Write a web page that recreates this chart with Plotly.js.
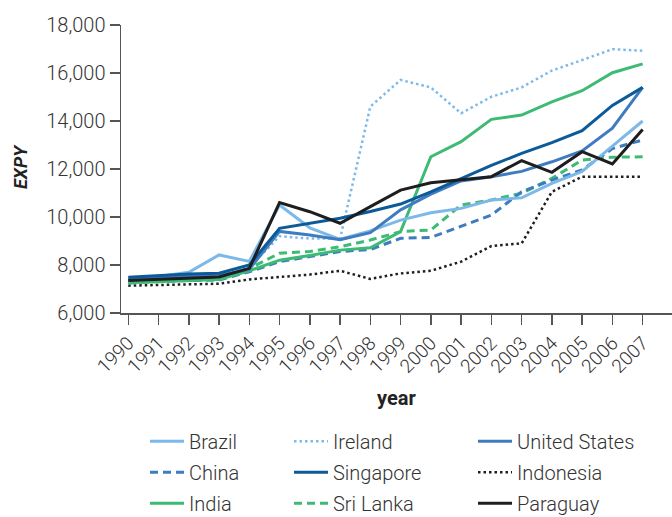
<!DOCTYPE html>
<html>
<head>
<meta charset="utf-8">
<script src="https://cdn.plot.ly/plotly-3.0.1.min.js"></script>
<style>html,body{margin:0;padding:0;background:#fff;}#chart{width:672px;height:517px;}</style>
</head>
<body>
<div id="chart"></div>
<script>
const years = [1990,1991,1992,1993,1994,1995,1996,1997,1998,1999,2000,2001,2002,2003,2004,2005,2006,2007];
const tickLabels = years.map(String);
const yTitle = 'EXPY';
const xTitle = 'year';

const brazil       = [7380,7520,7700,8420,8150,10500,9550,9070,9420,9870,10180,10360,10710,10800,11400,11900,12950,14000];
const ireland      = [7320,7420,7500,7560,7900,9200,9100,9100,14600,15710,15400,14320,15010,15400,16100,16540,16990,16930];
const unitedStates = [7420,7480,7540,7560,7820,9400,9250,9050,9350,10300,10950,11500,11680,11900,12300,12750,13700,15400];
const china        = [7300,7320,7350,7375,7720,8140,8350,8560,8650,9110,9150,9600,10080,11050,11540,11960,12850,13210];
const singapore    = [7490,7560,7620,7660,8000,9530,9740,9950,10230,10540,11050,11600,12150,12650,13100,13600,14650,15400];
const indonesia    = [7140,7170,7190,7220,7400,7510,7600,7760,7420,7650,7760,8140,8790,8900,11050,11680,11680,11680];
const india        = [7260,7300,7350,7400,7760,8200,8400,8620,8720,9390,12510,13140,14070,14250,14800,15260,16010,16380];
const sriLanka     = [7240,7300,7380,7445,7860,8490,8560,8760,9040,9390,9460,10500,10710,10990,11610,12375,12490,12510];
const paraguay     = [7350,7400,7450,7500,7860,10600,10220,9740,10430,11120,11430,11540,11680,12350,11860,12720,12210,13650];

const lightBlue = '#7db9e8', midBlue = '#3f7cbf', darkBlue = '#0d5a99', green = '#3dbb74', black = '#1e1e1e';
const DOT = '2.5px,3px', DASH = '8px,5px';

function tr(name, y, color, dash, width, legend, rank) {
  return {x: years, y: y, name: name, type: 'scatter', mode: 'lines',
    line: {color: color, width: width, dash: dash},
    legend: legend, legendrank: rank, legendgroup: name};
}

const data = [
  tr('Indonesia', indonesia, black, DOT, 2.5, 'legend3', 2),
  tr('Sri Lanka', sriLanka, green, DASH, 3, 'legend2', 3),
  tr('China', china, midBlue, DASH, 3, 'legend', 2),
  tr('India', india, green, 'solid', 3, 'legend', 3),
  tr('Ireland', ireland, lightBlue, DOT, 2.5, 'legend2', 1),
  tr('Brazil', brazil, lightBlue, 'solid', 3, 'legend', 1),
  tr('United States', unitedStates, midBlue, 'solid', 3, 'legend3', 1),
  tr('Singapore', singapore, darkBlue, 'solid', 3, 'legend2', 2),
  tr('Paraguay', paraguay, black, 'solid', 3, 'legend3', 3)
];

const FONT = 'Roboto, "Liberation Sans", Arial, sans-serif';
const txt = '#333333';
const legendBase = {
  orientation: 'v', xref: 'container', yref: 'container', xanchor: 'left', yanchor: 'top',
  y: 0.184, bgcolor: 'rgba(0,0,0,0)', borderwidth: 0, itemwidth: 34,
  font: {family: FONT, size: 20, color: txt, weight: 300},
  traceorder: 'grouped', tracegroupgap: 2, itemclick: false
};

const layout = {
  width: 672, height: 517,
  margin: {l: 121, r: 0, t: 25, b: 204, pad: 0, autoexpand: false},
  paper_bgcolor: '#ffffff', plot_bgcolor: '#ffffff',
  font: {family: FONT, size: 20, color: txt, weight: 300},
  xaxis: {
    range: [1989.76, 2007.97], tickvals: years, ticktext: tickLabels, tickangle: -45,
    showgrid: false, zeroline: false, showline: true, linecolor: '#555555', linewidth: 1.5,
    ticks: 'outside', ticklen: 10, tickwidth: 1.5, tickcolor: '#555555',
    tickfont: {family: FONT, size: 19, color: txt, weight: 300},
    title: {text: xTitle, font: {family: FONT, size: 20, color: '#222', weight: 700}, standoff: 14},
    automargin: false
  },
  yaxis: {
    range: [6000, 18000], tickvals: [6000,8000,10000,12000,14000,16000,18000],
    tickformat: ',d', showgrid: false, zeroline: false, showline: true,
    linecolor: '#555555', linewidth: 1.5, ticks: 'outside', ticklen: 10, tickwidth: 1.5, tickcolor: '#555555',
    tickfont: {family: FONT, size: 20, color: txt, weight: 300},
    automargin: false
  },
  annotations: [{
    text: '<b><i>' + yTitle + '</i></b>', xref: 'paper', yref: 'paper',
    x: (20 - 121) / 551, y: (313 - 167) / 288, xanchor: 'center', yanchor: 'middle',
    textangle: -90, showarrow: false, font: {family: FONT, size: 18, color: '#222'}
  }],
  legend:  Object.assign({}, legendBase, {x: 145/672}),
  legend2: Object.assign({}, legendBase, {x: 289/672}),
  legend3: Object.assign({}, legendBase, {x: 473/672}),
  showlegend: true
};

Plotly.newPlot('chart', data, layout, {displayModeBar: false, staticPlot: true});
</script>
</body>
</html>
